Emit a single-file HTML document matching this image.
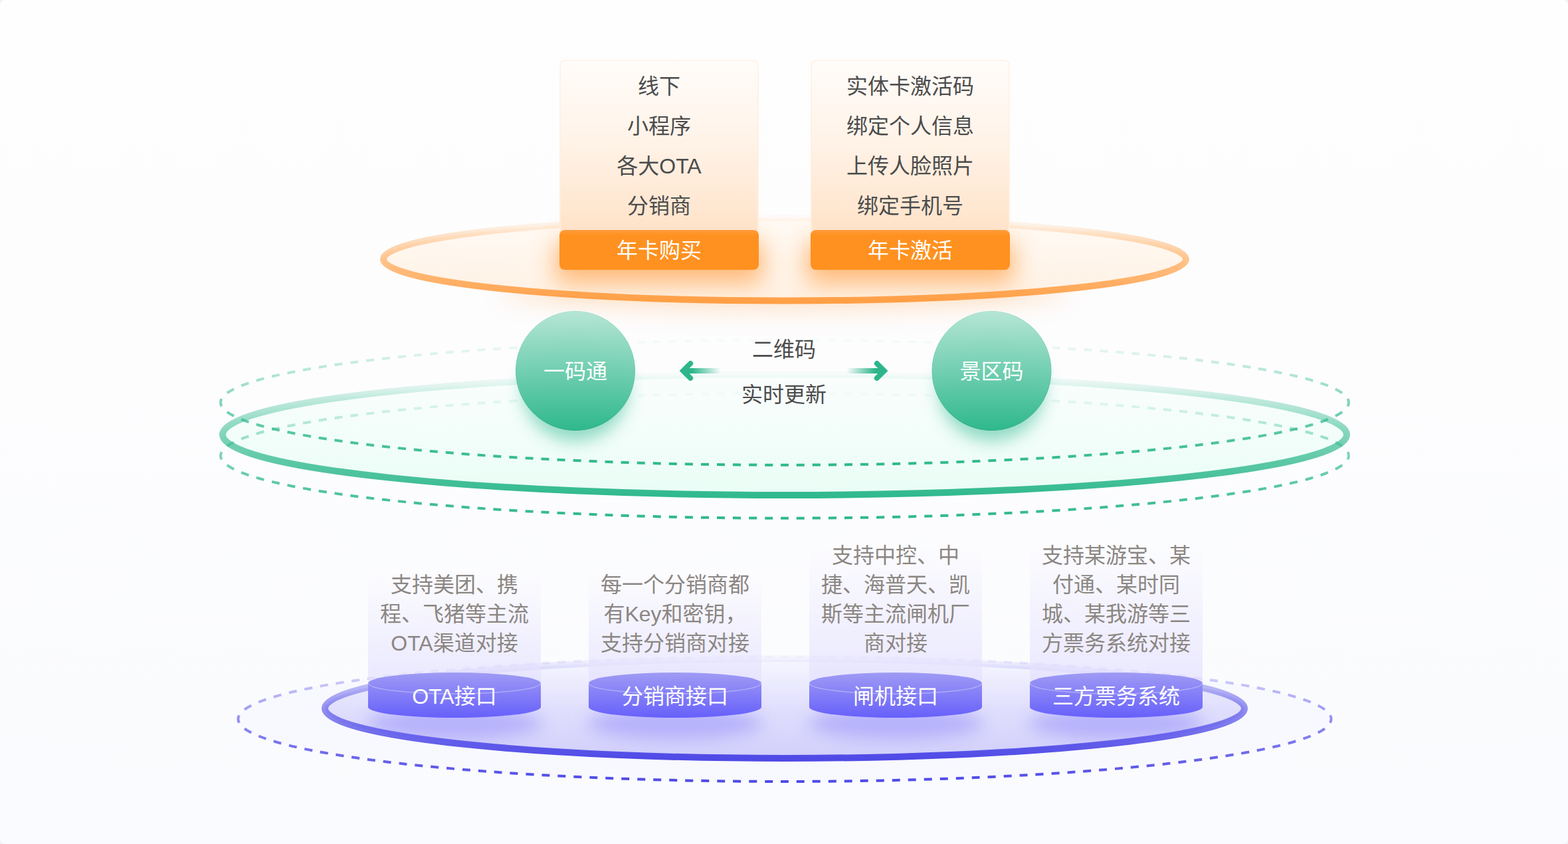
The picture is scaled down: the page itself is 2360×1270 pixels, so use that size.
<!DOCTYPE html>
<html lang="zh-CN">
<head>
<meta charset="utf-8">
<title>年卡系统架构</title>
<style>
  html, body { margin: 0; padding: 0; }
  body {
    width: 2360px; height: 1270px; overflow: hidden;
    background: #f1f1f5;
    font-family: "Liberation Sans", "Noto Sans CJK SC", sans-serif;
  }
  #stage {
    position: relative; width: 2360px; height: 1270px; overflow: hidden;
    border-radius: 8px;
    background: linear-gradient(180deg, #fefefe 0%, #fdfdfe 45%, #fafbfe 100%);
  }
  #txt { position: absolute; left: 0; top: 0; width: 2360px; height: 1270px; }
  #art { position: absolute; left: 0; top: 0; width: 2360px; height: 1270px; display: block; }
  #art text { font-family: "Liberation Sans", "Noto Sans CJK SC", sans-serif; font-size: 32px; font-weight: 400; text-anchor: middle; }
  .t {
    position: absolute; margin: 0; white-space: nowrap; text-align: center;
    font-size: 32px; font-weight: 400; font-family: "Liberation Sans", "Noto Sans CJK SC", sans-serif;
  }
  #txt .t { color: transparent !important; }
  /* top cards */
  .list { width: 300px; line-height: 60px; color: #4c4c4c; top: 100px; }
  .btn  { width: 300px; line-height: 60px; color: #ffffff; top: 347px; }
  /* middle */
  .ball { width: 180px; line-height: 60px; color: #ffffff; top: 529px; }
  .mid  { width: 300px; line-height: 60px; color: #4c4c4c; left: 1030px; }
  /* bottom */
  .desc { width: 300px; line-height: 44px; color: #8b8683; }
  .cyl  { width: 260px; line-height: 60px; color: #ffffff; top: 1018px; }
</style>
</head>
<body>
<div id="stage">

<svg id="art" width="2360" height="1270" viewBox="0 0 2360 1270">
  <defs>
    <!-- orange -->
    <linearGradient id="oStroke" x1="0" y1="0" x2="0" y2="1">
      <stop offset="0" stop-color="#ffa048" stop-opacity="0.03"/>
      <stop offset="0.1" stop-color="#ffa048" stop-opacity="0.14"/>
      <stop offset="0.2" stop-color="#ffa048" stop-opacity="0.29"/>
      <stop offset="0.5" stop-color="#ffa048" stop-opacity="0.6"/>
      <stop offset="1" stop-color="#ffa048" stop-opacity="1"/>
    </linearGradient>
    <linearGradient id="oFill" x1="0" y1="0" x2="0" y2="1">
      <stop offset="0" stop-color="#fffaf5"/>
      <stop offset="1" stop-color="#fff1e3"/>
    </linearGradient>
    <linearGradient id="cardFill" x1="0" y1="0" x2="0" y2="1">
      <stop offset="0" stop-color="#fffcf9"/>
      <stop offset="0.45" stop-color="#fff3e8"/>
      <stop offset="1" stop-color="#ffe1c6"/>
    </linearGradient>
    <linearGradient id="cardStroke" x1="0" y1="0" x2="0" y2="1">
      <stop offset="0" stop-color="#fff3e8"/>
      <stop offset="1" stop-color="#ffeddc"/>
    </linearGradient>
    <linearGradient id="btnFill" x1="0" y1="0" x2="0" y2="1">
      <stop offset="0" stop-color="#ff9d3f"/>
      <stop offset="0.1" stop-color="#ff9425"/>
      <stop offset="0.16" stop-color="#ff9120"/>
      <stop offset="1" stop-color="#ff9120"/>
    </linearGradient>
    <filter id="blur30" x="-30%" y="-150%" width="160%" height="400%"><feGaussianBlur stdDeviation="18"/></filter>
    <filter id="blur20" x="-30%" y="-100%" width="160%" height="300%"><feGaussianBlur stdDeviation="12"/></filter>
    <filter id="blur12" x="-30%" y="-100%" width="160%" height="300%"><feGaussianBlur stdDeviation="9"/></filter>

    <!-- green -->
    <linearGradient id="gStroke" x1="0" y1="0" x2="0" y2="1">
      <stop offset="0" stop-color="#31b98e" stop-opacity="0.03"/>
      <stop offset="0.1" stop-color="#31b98e" stop-opacity="0.14"/>
      <stop offset="0.2" stop-color="#31b98e" stop-opacity="0.29"/>
      <stop offset="0.5" stop-color="#31b98e" stop-opacity="0.6"/>
      <stop offset="1" stop-color="#31b98e" stop-opacity="1"/>
    </linearGradient>
    <linearGradient id="gDash" x1="0" y1="0" x2="0" y2="1">
      <stop offset="0" stop-color="#2fb88d" stop-opacity="0.03"/>
      <stop offset="0.1" stop-color="#2fb88d" stop-opacity="0.14"/>
      <stop offset="0.2" stop-color="#2fb88d" stop-opacity="0.29"/>
      <stop offset="0.5" stop-color="#2fb88d" stop-opacity="0.6"/>
      <stop offset="1" stop-color="#2fb88d" stop-opacity="1"/>
    </linearGradient>
    <linearGradient id="gFill" x1="0" y1="0" x2="0" y2="1">
      <stop offset="0" stop-color="#f8fefc" stop-opacity="0.7"/>
      <stop offset="1" stop-color="#e9fdf5" stop-opacity="1"/>
    </linearGradient>
    <linearGradient id="ballFill" x1="0" y1="0" x2="0" y2="1">
      <stop offset="0" stop-color="#b3e5d4"/>
      <stop offset="1" stop-color="#2cb78b"/>
    </linearGradient>
    <linearGradient id="ballEdge" x1="0" y1="0" x2="0" y2="1">
      <stop offset="0" stop-color="#a5dfcc"/>
      <stop offset="1" stop-color="#27ad82"/>
    </linearGradient>
    <linearGradient id="arrowL" gradientUnits="userSpaceOnUse" x1="1042" y1="0" x2="1085" y2="0">
      <stop offset="0" stop-color="#2db68b" stop-opacity="1"/>
      <stop offset="1" stop-color="#2db68b" stop-opacity="0"/>
    </linearGradient>
    <linearGradient id="arrowR" gradientUnits="userSpaceOnUse" x1="1317" y1="0" x2="1274" y2="0">
      <stop offset="0" stop-color="#2db68b" stop-opacity="1"/>
      <stop offset="1" stop-color="#2db68b" stop-opacity="0"/>
    </linearGradient>

    <!-- purple -->
    <linearGradient id="pStroke" x1="0" y1="0" x2="0" y2="1">
      <stop offset="0" stop-color="#4f4ae6" stop-opacity="0.03"/>
      <stop offset="0.1" stop-color="#4f4ae6" stop-opacity="0.14"/>
      <stop offset="0.2" stop-color="#4f4ae6" stop-opacity="0.29"/>
      <stop offset="0.5" stop-color="#4f4ae6" stop-opacity="0.6"/>
      <stop offset="1" stop-color="#4f4ae6" stop-opacity="1"/>
    </linearGradient>
    <linearGradient id="pDash" x1="0" y1="0" x2="0" y2="1">
      <stop offset="0" stop-color="#4f4ae6" stop-opacity="0.03"/>
      <stop offset="0.1" stop-color="#4f4ae6" stop-opacity="0.14"/>
      <stop offset="0.2" stop-color="#4f4ae6" stop-opacity="0.29"/>
      <stop offset="0.5" stop-color="#4f4ae6" stop-opacity="0.6"/>
      <stop offset="1" stop-color="#4f4ae6" stop-opacity="1"/>
    </linearGradient>
    <linearGradient id="pFill" x1="0" y1="0" x2="0" y2="1">
      <stop offset="0" stop-color="#d2cffb" stop-opacity="0.05"/>
      <stop offset="0.5" stop-color="#d2cffb" stop-opacity="0.62"/>
      <stop offset="1" stop-color="#d2cffb" stop-opacity="1"/>
    </linearGradient>
    <linearGradient id="beam" x1="0" y1="0" x2="0" y2="1">
      <stop offset="0" stop-color="#e5e2fe" stop-opacity="0"/>
      <stop offset="1" stop-color="#e5e2fe" stop-opacity="0.82"/>
    </linearGradient>
    <linearGradient id="cylFill" x1="0" y1="0" x2="0" y2="1">
      <stop offset="0" stop-color="#9f9bf4"/>
      <stop offset="1" stop-color="#6760fb"/>
    </linearGradient>

    <!-- reusable pieces -->
    <clipPath id="plateClip"><ellipse cx="1181" cy="1066" rx="694" ry="77"/></clipPath>
    <ellipse id="cylShadow" cx="130" cy="1088" rx="132" ry="24" fill="#6d66fa" opacity="0.34" filter="url(#blur20)"/>
    <g id="cyl">
      <path d="M0,1028 A130,16 0 0 1 260,1028 L260,1064 A130,16 0 0 1 0,1064 Z" fill="url(#cylFill)"/>
      <path d="M0.5,1028 A129.5,16 0 0 0 259.5,1028" fill="none" stroke="#ffffff" stroke-opacity="0.32" stroke-width="1.5"/>
    </g>
  </defs>

  <!-- ================= ORANGE LAYER ================= -->
  <ellipse cx="1181" cy="440" rx="430" ry="30" fill="#ff9a3c" opacity="0.22" filter="url(#blur30)"/>
  <ellipse cx="1181" cy="390" rx="604" ry="62.5" fill="url(#oFill)" stroke="url(#oStroke)" stroke-width="10"/>

  <!-- button shadows -->
  <rect x="836" y="362" width="312" height="64" rx="10" fill="#ff912a" opacity="0.6" filter="url(#blur30)"/>
  <rect x="1214" y="362" width="312" height="64" rx="10" fill="#ff912a" opacity="0.6" filter="url(#blur30)"/>

  <!-- cards -->
  <rect x="843" y="91" width="298" height="270" rx="7" fill="url(#cardFill)" stroke="url(#cardStroke)" stroke-width="2"/>
  <rect x="1221" y="91" width="298" height="270" rx="7" fill="url(#cardFill)" stroke="url(#cardStroke)" stroke-width="2"/>
  <rect x="842" y="346" width="300" height="60" rx="8" fill="url(#btnFill)"/>
  <rect x="1220" y="346" width="300" height="60" rx="8" fill="url(#btnFill)"/>

  <!-- ================= GREEN LAYER ================= -->
  <ellipse cx="1181" cy="654" rx="846" ry="91" fill="url(#gFill)" stroke="url(#gStroke)" stroke-width="10"/>
  <path pathLength="3456" d="M2030,605.7 A849,94 0 0 1 332,605.7 A849,94 0 0 1 2030,605.7 Z"
        fill="none" stroke="url(#gDash)" stroke-width="4" stroke-dasharray="12 12" stroke-dashoffset="6"/>
  <path pathLength="3456" d="M2030,685.7 A849,94 0 0 1 332,685.7 A849,94 0 0 1 2030,685.7 Z"
        fill="none" stroke="url(#gDash)" stroke-width="4" stroke-dasharray="12 12" stroke-dashoffset="6"/>

  <!-- balls -->
  <ellipse cx="866" cy="586" rx="80" ry="78" fill="#2fb88d" opacity="0.5" filter="url(#blur20)"/>
  <ellipse cx="1492.5" cy="586" rx="80" ry="78" fill="#2fb88d" opacity="0.5" filter="url(#blur20)"/>
  <circle cx="866" cy="558" r="89.5" fill="url(#ballFill)" stroke="url(#ballEdge)" stroke-width="1" fill-opacity="0.97"/>
  <circle cx="1492.5" cy="558" r="89.5" fill="url(#ballFill)" stroke="url(#ballEdge)" stroke-width="1" fill-opacity="0.97"/>

  <!-- arrows -->
  <rect x="1028" y="554" width="57" height="8" fill="url(#arrowL)"/>
  <path d="M1039.2,547 L1028.2,558 L1039.2,569" fill="none" stroke="#2db68b" stroke-width="8" stroke-linecap="round" stroke-linejoin="miter"/>
  <rect x="1274" y="554" width="57" height="8" fill="url(#arrowR)"/>
  <path d="M1319.8,547 L1330.8,558 L1319.8,569" fill="none" stroke="#2db68b" stroke-width="8" stroke-linecap="round" stroke-linejoin="miter"/>

  <!-- ================= PURPLE LAYER ================= -->
  <path pathLength="3360" d="M2003.6,1082 A822.6,94 0 0 1 358.4,1082 A822.6,94 0 0 1 2003.6,1082 Z"
        fill="#f6f6ff" fill-opacity="0.55" stroke="url(#pDash)" stroke-width="4" stroke-dasharray="12 12" stroke-dashoffset="6"/>
  <ellipse cx="1181" cy="1066" rx="692" ry="75" fill="url(#pFill)" stroke="url(#pStroke)" stroke-width="10"/>

  <!-- beams -->
  <rect x="554"  y="862" width="260" height="178" fill="url(#beam)"/>
  <rect x="886"  y="862" width="260" height="178" fill="url(#beam)"/>
  <rect x="1218" y="820" width="260" height="220" fill="url(#beam)"/>
  <rect x="1550" y="820" width="260" height="220" fill="url(#beam)"/>

  <!-- cylinder shadows (kept inside the plate) -->
  <g clip-path="url(#plateClip)">
    <use href="#cylShadow" x="554"/>
    <use href="#cylShadow" x="886"/>
    <use href="#cylShadow" x="1218"/>
    <use href="#cylShadow" x="1550"/>
  </g>

  <!-- cylinders -->
  <use href="#cyl" x="554"/>
  <use href="#cyl" x="886"/>
  <use href="#cyl" x="1218"/>
  <use href="#cyl" x="1550"/>

  <g id="labels">
    <g fill="#4c4c4c">
      <text x="992" y="141">线下</text>
      <text x="992" y="201">小程序</text>
      <text x="992" y="261">各大OTA</text>
      <text x="992" y="321">分销商</text>
      <text x="1370" y="141">实体卡激活码</text>
      <text x="1370" y="201">绑定个人信息</text>
      <text x="1370" y="261">上传人脸照片</text>
      <text x="1370" y="321">绑定手机号</text>
      <text x="1180" y="537">二维码</text>
      <text x="1180" y="605">实时更新</text>
    </g>
    <g fill="#ffffff">
      <text x="992" y="388">年卡购买</text>
      <text x="1370" y="388">年卡激活</text>
      <text x="866" y="570">一码通</text>
      <text x="1492.5" y="570">景区码</text>
      <text x="684" y="1059">OTA接口</text>
      <text x="1016" y="1059">分销商接口</text>
      <text x="1348" y="1059">闸机接口</text>
      <text x="1680" y="1059">三方票务系统</text>
    </g>
    <g fill="#8b8683">
      <text x="684" y="891">支持美团、携</text>
      <text x="684" y="935">程、飞猪等主流</text>
      <text x="684" y="979">OTA渠道对接</text>
      <text x="1016" y="891">每一个分销商都</text>
      <text x="1016" y="935">有Key和密钥，</text>
      <text x="1016" y="979">支持分销商对接</text>
      <text x="1348" y="847">支持中控、中</text>
      <text x="1348" y="891">捷、海普天、凯</text>
      <text x="1348" y="935">斯等主流闸机厂</text>
      <text x="1348" y="979">商对接</text>
      <text x="1680" y="847">支持某游宝、某</text>
      <text x="1680" y="891">付通、某时同</text>
      <text x="1680" y="935">城、某我游等三</text>
      <text x="1680" y="979">方票务系统对接</text>
    </g>
  </g>
</svg>

<!-- ================= TEXT ================= -->
<div id="txt">
<p class="t list" style="left:842px">线下<br>小程序<br>各大OTA<br>分销商</p>
<p class="t btn"  style="left:842px">年卡购买</p>
<p class="t list" style="left:1220px">实体卡激活码<br>绑定个人信息<br>上传人脸照片<br>绑定手机号</p>
<p class="t btn"  style="left:1220px">年卡激活</p>

<p class="t ball" style="left:776px">一码通</p>
<p class="t ball" style="left:1402.5px">景区码</p>
<p class="t mid" style="top:496px">二维码</p>
<p class="t mid" style="top:564px">实时更新</p>

<p class="t desc" style="left:534px;top:858px">支持美团、携<br>程、飞猪等主流<br>OTA渠道对接</p>
<p class="t desc" style="left:866px;top:858px">每一个分销商都<br>有Key和密钥，<br>支持分销商对接</p>
<p class="t desc" style="left:1198px;top:814px">支持中控、中<br>捷、海普天、凯<br>斯等主流闸机厂<br>商对接</p>
<p class="t desc" style="left:1530px;top:814px">支持某游宝、某<br>付通、某时同<br>城、某我游等三<br>方票务系统对接</p>

<p class="t cyl" style="left:554px">OTA接口</p>
<p class="t cyl" style="left:886px">分销商接口</p>
<p class="t cyl" style="left:1218px">闸机接口</p>
<p class="t cyl" style="left:1550px">三方票务系统</p>
</div>

</div>
</body>
</html>
